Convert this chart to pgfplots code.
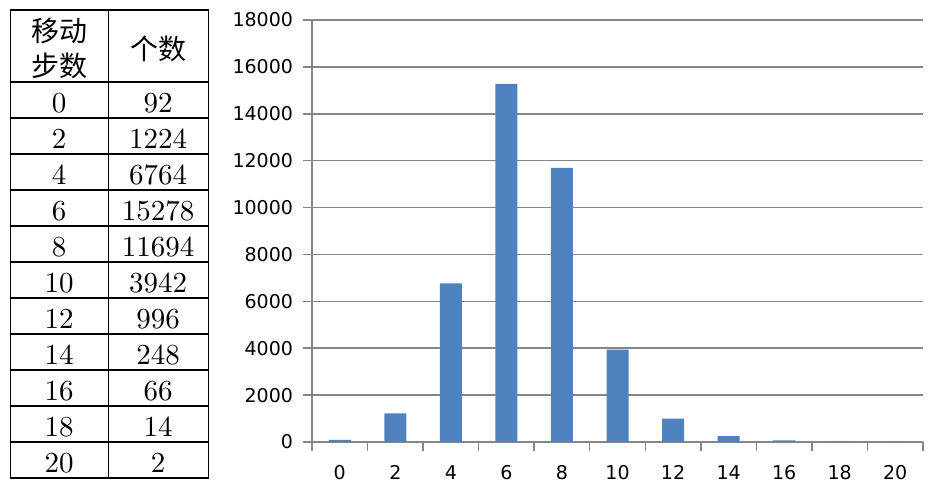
\documentclass[border=0pt]{standalone}
\usepackage{fontspec}
\usepackage{pgfplots}
\pgfplotsset{compat=1.18}
\newfontfamily\cjk{Noto Sans CJK SC}
\newfontfamily\tickfont{DejaVu Sans}
\newfontfamily\numfont{lmroman10-regular}[Extension=.otf]
\definecolor{barblue}{HTML}{4F81BD}
\definecolor{gridgray}{HTML}{868686}
\begin{document}
\begin{tikzpicture}
\useasboundingbox (0pt,0pt) rectangle (935pt,490pt);
% ---- table ----
\draw[line width=1.3pt] (10.5pt,12pt) rectangle (208.5pt,480pt);
\draw[line width=1.3pt] (108.5pt,12pt) -- (108.5pt,480pt);
\foreach \yy in {408,372,...,48} \draw[line width=1.3pt] (10.5pt,\yy pt) -- (208.5pt,\yy pt);
\node[anchor=base, inner sep=0, font=\cjk\fontsize{28}{30}\selectfont] at (59pt,448pt) {移动};
\node[anchor=base, inner sep=0, font=\cjk\fontsize{28}{30}\selectfont] at (59pt,413pt) {步数};
\node[anchor=base, inner sep=0, font=\cjk\fontsize{28}{30}\selectfont] at (158pt,430.5pt) {个数};
\foreach \s/\n [count=\i from 0] in {0/92,2/1224,4/6764,6/15278,8/11694,10/3942,12/996,14/248,16/66,18/14,20/2} {
  \pgfmathsetmacro{\yb}{377-36*\i}
  \node[anchor=base, inner sep=0, font=\numfont\fontsize{29}{34}\selectfont] at (59pt,\yb pt) {\s};
  \node[anchor=base, inner sep=0, font=\numfont\fontsize{29}{34}\selectfont] at (158pt,\yb pt) {\n};
}
% ---- chart ----
\begin{axis}[
  at={(312pt,48pt)}, anchor=south west,
  scale only axis, width=611pt, height=422pt,
  xmin=-0.5, xmax=10.5, ymin=0, ymax=18000,
  axis lines=left,
  axis line style={-, draw=gridgray, line width=1.5pt},
  ytick={0,2000,...,18000},
  scaled y ticks=false,
  ymajorgrids,
  major grid style={draw=gridgray, line width=1.5pt},
  xtick={0,...,10},
  xticklabels={0,2,4,6,8,10,12,14,16,18,20},
  minor xtick={-0.5,0.5,...,10.5},
  tick align=outside,
  major tick length=9pt, minor tick length=9pt,
  tick style={draw=gridgray, line width=1.5pt},
  major x tick style={draw=none},
  ticklabel style={font=\tickfont\fontsize{19}{21}\selectfont},
  xticklabel style={yshift=-11pt},
  yticklabel style={xshift=-6.5pt},
  /pgf/number format/assume math mode=true,
  /pgf/number format/1000 sep={},
  ybar, bar width=22pt,
]
\addplot[fill=barblue, draw=none] coordinates {
  (0,92) (1,1224) (2,6764) (3,15278) (4,11694) (5,3942)
  (6,996) (7,248) (8,66) (9,14) (10,2)
};
\end{axis}
\end{tikzpicture}
\end{document}
